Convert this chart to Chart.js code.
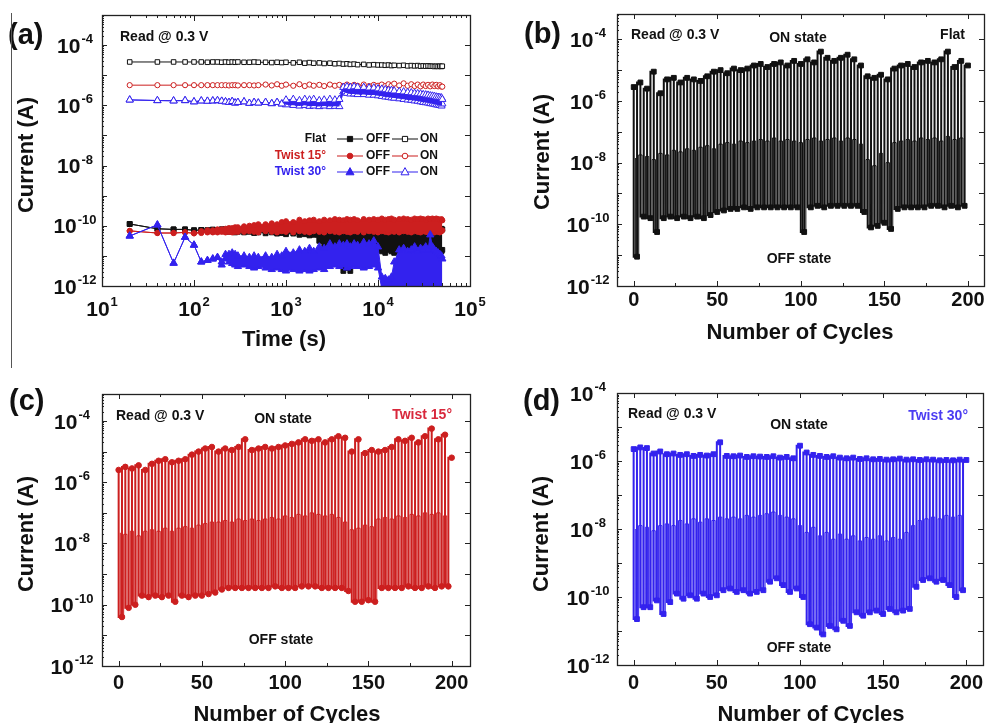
<!DOCTYPE html>
<html>
<head>
<meta charset="utf-8">
<script src="https://cdn.jsdelivr.net/npm/chart.js@4.4.1/dist/chart.umd.min.js"></script>
<style>
  html,body{margin:0;padding:0;background:#fff}
  #fig{position:relative;width:991px;height:723px;overflow:hidden;background:#fff}
  #fig canvas{position:absolute}
</style>
</head>
<body>
<div id="fig">
  <canvas id="ca" width="495" height="360" style="left:0;top:0"></canvas>
  <canvas id="cb" width="496" height="360" style="left:495px;top:0"></canvas>
  <canvas id="cc" width="495" height="363" style="left:0;top:360px"></canvas>
  <canvas id="cd" width="496" height="363" style="left:495px;top:360px"></canvas>
</div>
<script>
/* retention (a) + endurance (b-d); currents kept as log10(I / A) */

// ---- (a) retention, read @ 0.3 V. Noisy parts are given as upper / lower envelopes (HI / LO)
const TIME_S = [20,40,60,80,100,120,140,160,180,200,220,240,260,280,300,350,400,450,500,600,700,800,900,1000,
  1200,1400,1600,1800,2000,2300,2600,3000,3400,3800,4200,4600,5000,5500,6000,7000,8000,9000,10000,
  11000,12000,13000,14000,15000,17000,19000,21000,23000,25000,27000,29000,31000,33000,35000,37000,39000,
  41000,43000,45000,47000,49000,50000];

const FLAT_ON_A = [-4.56,-4.56,-4.56,-4.56,-4.56,-4.56,-4.57,-4.56,-4.56,-4.57,-4.56,-4.57,-4.56,-4.57,-4.56,-4.57,
  -4.57,-4.56,-4.57,-4.57,-4.58,-4.57,-4.58,-4.57,-4.59,-4.57,-4.60,-4.58,-4.60,-4.59,-4.61,-4.60,-4.62,-4.61,
  -4.63,-4.62,-4.64,-4.63,-4.65,-4.64,-4.66,-4.65,-4.66,-4.66,-4.67,-4.66,-4.68,-4.67,-4.68,-4.67,-4.69,-4.68,
  -4.69,-4.68,-4.70,-4.69,-4.70,-4.69,-4.70,-4.70,-4.71,-4.70,-4.71,-4.70,-4.71,-4.70];
const T15_ON_A = [-5.33,-5.33,-5.33,-5.33,-5.33,-5.33,-5.33,-5.33,-5.33,-5.33,-5.33,-5.34,-5.33,-5.33,-5.34,-5.33,
  -5.33,-5.34,-5.33,-5.31,-5.34,-5.30,-5.35,-5.31,-5.35,-5.30,-5.36,-5.31,-5.35,-5.32,-5.36,-5.31,-5.35,-5.32,
  -5.36,-5.31,-5.36,-5.32,-5.35,-5.31,-5.36,-5.32,-5.35,-5.31,-5.36,-5.30,-5.35,-5.28,-5.34,-5.27,-5.35,-5.30,
  -5.36,-5.31,-5.37,-5.31,-5.36,-5.32,-5.37,-5.31,-5.36,-5.32,-5.37,-5.33,-5.38,-5.38];
const T30_ON_HI = [-5.82,-5.84,-5.85,-5.84,-5.88,-5.85,-5.86,-5.85,-5.84,-5.86,-5.88,-5.90,-5.87,-5.92,-5.90,-5.88,
  -5.93,-5.90,-5.92,-5.90,-5.94,-5.90,-5.95,-5.82,-5.80,-5.84,-5.80,-5.82,-5.80,-5.84,-5.82,-5.80,-5.82,-5.80,
  -5.40,-5.38,-5.40,-5.38,-5.40,-5.40,-5.42,-5.42,-5.45,-5.46,-5.48,-5.50,-5.50,-5.52,-5.54,-5.55,-5.57,-5.58,
  -5.60,-5.61,-5.62,-5.64,-5.65,-5.66,-5.68,-5.69,-5.70,-5.72,-5.73,-5.74,-5.75,-5.80];
const T30_ON_LO = [-5.82,-5.84,-5.85,-5.84,-5.88,-5.85,-5.86,-5.85,-5.84,-5.86,-5.88,-5.90,-5.87,-5.92,-5.90,-5.88,
  -5.93,-5.90,-5.92,-5.90,-5.94,-5.90,-5.95,-5.98,-6.00,-6.02,-6.00,-6.03,-6.02,-6.04,-6.02,-6.04,-6.03,-6.04,
  -5.55,-5.60,-5.62,-5.62,-5.64,-5.64,-5.66,-5.66,-5.68,-5.70,-5.72,-5.73,-5.75,-5.76,-5.78,-5.80,-5.82,-5.83,
  -5.85,-5.86,-5.88,-5.90,-5.91,-5.92,-5.94,-5.95,-5.96,-5.98,-5.99,-6.00,-6.02,-5.95];
const FLAT_OFF_HI = [-9.94,-10.10,-10.12,-10.12,-10.15,-10.14,-10.15,-10.13,-10.15,-10.12,-10.12,-10.10,-10.12,-10.10,
  -10.12,-10.10,-10.12,-10.10,-10.12,-10.10,-10.12,-10.10,-10.12,-10.10,-10.12,-10.05,-10.10,-10.05,-10.10,-10.08,
  -10.10,-10.12,-10.10,-10.12,-10.10,-10.12,-10.10,-10.12,-10.10,-10.12,-10.10,-10.12,-10.10,-10.12,-10.10,-10.12,
  -10.10,-10.12,-10.10,-10.12,-10.10,-10.12,-10.10,-10.12,-10.10,-10.12,-10.10,-10.12,-10.10,-10.12,-10.10,-10.12,
  -10.10,-10.12,-10.10,-10.12];
const FLAT_OFF_LO = [-9.94,-10.10,-10.12,-10.12,-10.15,-10.14,-10.15,-10.13,-10.15,-10.12,-10.18,-10.20,-10.18,-10.22,
  -10.20,-10.22,-10.20,-10.24,-10.22,-10.25,-10.22,-10.26,-10.24,-10.28,-10.26,-10.30,-10.28,-10.32,-10.30,-10.50,
  -10.70,-10.85,-10.90,-11.20,-11.50,-11.40,-11.50,-11.20,-10.95,-10.85,-10.90,-10.85,-10.80,-10.85,-10.90,-10.80,
  -10.85,-10.90,-10.85,-10.80,-10.85,-10.90,-10.85,-10.80,-10.85,-10.80,-10.85,-10.80,-10.85,-10.90,-10.85,-10.80,
  -10.85,-10.80,-10.85,-10.80];
const T15_OFF_HI = [-10.17,-10.24,-10.24,-10.22,-10.25,-10.18,-10.15,-10.15,-10.12,-10.12,-10.10,-10.08,-10.08,-10.05,
  -10.05,-10.02,-10.00,-9.98,-9.95,-9.95,-9.92,-9.95,-9.88,-9.85,-9.88,-9.80,-9.85,-9.82,-9.80,-9.85,-9.80,-9.82,
  -9.78,-9.80,-9.82,-9.78,-9.80,-9.78,-9.82,-9.78,-9.80,-9.78,-9.80,-9.76,-9.80,-9.78,-9.76,-9.80,-9.78,-9.76,
  -9.78,-9.80,-9.76,-9.78,-9.76,-9.78,-9.80,-9.76,-9.78,-9.76,-9.78,-9.76,-9.78,-9.80,-9.78,-9.82];
const T15_OFF_LO = [-10.17,-10.24,-10.24,-10.22,-10.25,-10.24,-10.22,-10.22,-10.22,-10.20,-10.22,-10.20,-10.22,-10.20,
  -10.20,-10.20,-10.18,-10.20,-10.22,-10.18,-10.20,-10.22,-10.18,-10.20,-10.22,-10.18,-10.20,-10.22,-10.18,-10.20,
  -10.22,-10.18,-10.20,-10.22,-10.18,-10.20,-10.22,-10.18,-10.20,-10.22,-10.18,-10.20,-10.22,-10.18,-10.20,-10.22,
  -10.18,-10.20,-10.22,-10.18,-10.20,-10.22,-10.18,-10.20,-10.22,-10.18,-10.20,-10.22,-10.18,-10.20,-10.22,-10.18,
  -10.20,-10.22,-10.18,-10.15];
const T30_OFF_HI = [-10.34,-9.97,-11.24,-10.38,-10.64,-11.20,-11.15,-11.10,-11.05,-11.20,-10.95,-10.95,-10.90,-10.95,
  -11.00,-11.00,-11.05,-11.00,-11.05,-11.00,-11.05,-10.95,-11.00,-10.85,-10.90,-10.80,-10.85,-10.75,-10.85,-10.70,
  -10.75,-10.60,-10.70,-10.60,-10.65,-10.60,-10.70,-10.60,-10.65,-10.55,-10.60,-10.50,-10.70,-11.70,-11.75,-11.80,
  -11.70,-11.20,-10.80,-10.75,-10.85,-10.80,-10.70,-10.85,-10.75,-10.80,-10.70,-10.80,-10.30,-10.70,-10.80,-10.85,
  -10.90,-10.95,-11.00,-11.10];
const T30_OFF_LO = [-10.34,-9.97,-11.24,-10.38,-10.64,-11.20,-11.15,-11.10,-11.05,-11.30,-11.10,-11.20,-11.25,-11.30,
  -11.35,-11.30,-11.35,-11.40,-11.35,-11.40,-11.45,-11.40,-11.45,-11.50,-11.45,-11.50,-11.45,-11.50,-11.45,-11.40,
  -11.45,-11.35,-11.30,-11.35,-11.30,-11.40,-11.35,-11.30,-11.35,-11.40,-11.35,-11.30,-11.40,-12.10,-12.10,-12.10,
  -12.10,-12.10,-12.20,-12.20,-12.20,-12.20,-12.20,-12.20,-12.20,-12.20,-12.20,-12.20,-12.20,-12.20,-12.20,-12.20,
  -12.20,-12.20,-12.20,-12.20];

// ---- (b)-(d) endurance: one ON/OFF pair every 4 cycles, MID = top of the dense lower band
const CYCLES = [0,4,8,12,16,20,24,28,32,36,40,44,48,52,56,60,64,68,72,76,80,84,88,92,96,100,
  104,108,112,116,120,124,128,132,136,140,144,148,152,156,160,164,168,172,176,180,184,188,192,196,200];

const FLAT_ON = [-5.55,-5.40,-5.60,-5.05,-5.75,-5.30,-5.25,-5.40,-5.25,-5.30,-5.35,-5.20,-5.05,-5.00,-5.10,-4.95,
  -5.00,-4.95,-4.85,-4.80,-4.90,-4.80,-4.75,-4.85,-4.70,-4.80,-4.65,-4.75,-4.40,-4.60,-4.70,-4.60,-4.50,-4.65,
  -4.85,-5.20,-5.25,-5.15,-5.30,-4.95,-4.85,-4.80,-4.90,-4.75,-4.70,-4.75,-4.65,-4.40,-4.90,-4.70,-4.85];
const FLAT_OFF = [-11.05,-9.75,-9.80,-10.25,-9.80,-9.75,-9.80,-9.75,-9.80,-9.75,-9.80,-9.70,-9.60,-9.55,-9.50,-9.50,
  -9.45,-9.50,-9.45,-9.45,-9.45,-9.45,-9.45,-9.45,-9.45,-10.25,-9.45,-9.40,-9.45,-9.40,-9.40,-9.40,-9.40,-9.40,
  -9.60,-10.10,-10.05,-9.95,-10.15,-9.50,-9.45,-9.45,-9.45,-9.45,-9.40,-9.40,-9.45,-9.40,-9.45,-9.40];
const FLAT_MID = [-7.85,-7.75,-7.80,-7.90,-7.70,-7.75,-7.60,-7.65,-7.55,-7.60,-7.50,-7.45,-7.55,-7.40,-7.35,-7.40,
  -7.30,-7.35,-7.30,-7.25,-7.30,-7.20,-7.30,-7.25,-7.30,-7.35,-7.25,-7.20,-7.30,-7.25,-7.20,-7.30,-7.20,-7.25,
  -7.40,-7.90,-8.10,-7.70,-8.00,-7.35,-7.30,-7.25,-7.30,-7.20,-7.25,-7.20,-7.30,-7.15,-7.25,-7.20];

const T15_ON = [-5.60,-5.50,-5.55,-5.45,-5.60,-5.40,-5.30,-5.25,-5.35,-5.30,-5.25,-5.10,-5.00,-4.90,-4.85,-5.00,
  -4.90,-4.95,-4.85,-4.60,-4.95,-4.90,-4.85,-4.90,-4.85,-4.80,-4.75,-4.70,-4.60,-4.65,-4.60,-4.70,-4.60,-4.50,
  -4.55,-5.00,-4.60,-5.05,-4.95,-5.00,-4.95,-4.85,-4.60,-4.65,-4.55,-4.70,-4.50,-4.25,-4.60,-4.45,-5.20];
const T15_OFF = [-10.40,-10.10,-10.00,-9.70,-9.75,-9.70,-9.75,-9.70,-9.90,-9.70,-9.75,-9.70,-9.70,-9.65,-9.60,-9.50,
  -9.45,-9.45,-9.45,-9.45,-9.45,-9.45,-9.45,-9.40,-9.45,-9.45,-9.45,-9.40,-9.40,-9.40,-9.45,-9.45,-9.45,-9.45,
  -9.55,-9.90,-9.90,-9.85,-9.90,-9.45,-9.45,-9.45,-9.45,-9.40,-9.45,-9.45,-9.40,-9.45,-9.40,-9.40];
const T15_MID = [-7.65,-7.70,-7.60,-7.75,-7.60,-7.55,-7.60,-7.50,-7.60,-7.50,-7.45,-7.50,-7.40,-7.35,-7.30,-7.30,
  -7.25,-7.30,-7.20,-7.25,-7.20,-7.25,-7.20,-7.15,-7.20,-7.10,-7.15,-7.05,-7.10,-7.00,-7.05,-7.10,-7.05,-7.15,
  -7.30,-7.55,-7.50,-7.40,-7.45,-7.20,-7.15,-7.20,-7.10,-7.15,-7.05,-7.10,-7.00,-7.05,-7.00,-7.10];

const T30_ON = [-5.65,-5.60,-5.62,-5.78,-5.72,-5.80,-5.78,-5.82,-5.80,-5.85,-5.82,-5.84,-5.80,-5.45,-5.85,-5.86,
  -5.84,-5.88,-5.86,-5.87,-5.88,-5.86,-5.90,-5.88,-5.92,-5.55,-5.75,-5.82,-5.85,-5.88,-5.86,-5.90,-5.92,-5.90,
  -5.94,-5.92,-5.95,-5.94,-5.96,-5.95,-5.93,-5.96,-5.95,-5.97,-5.95,-5.96,-5.98,-5.97,-5.98,-5.96,-5.97];
const T30_OFF = [-10.65,-10.30,-10.30,-10.10,-10.50,-10.15,-9.90,-10.05,-9.95,-10.05,-9.90,-10.00,-9.95,-9.80,-9.75,
  -9.85,-9.80,-9.90,-9.85,-9.80,-9.55,-9.45,-9.65,-9.85,-9.75,-10.00,-10.80,-10.90,-11.10,-10.85,-10.95,-10.70,
  -10.85,-10.45,-10.55,-10.45,-10.40,-10.50,-10.35,-10.45,-10.40,-10.35,-9.70,-9.50,-9.45,-9.55,-9.50,-9.65,
  -10.00,-9.80];
const T30_MID = [-8.00,-7.90,-7.95,-8.05,-7.90,-7.85,-7.90,-7.75,-7.85,-7.70,-7.80,-7.70,-7.75,-7.65,-7.70,-7.65,
  -7.70,-7.60,-7.65,-7.60,-7.55,-7.50,-7.60,-7.65,-7.70,-7.90,-8.10,-7.95,-8.20,-8.10,-8.30,-8.15,-8.30,-8.20,
  -8.35,-8.25,-8.30,-8.20,-8.35,-8.25,-8.30,-8.10,-7.90,-7.75,-7.70,-7.65,-7.70,-7.60,-7.65,-7.60];

const FONT = '"Liberation Sans", Arial, Helvetica, sans-serif';
const BLK = '#111111', RED = '#cc1f1f', BLUE = '#3322ee';

Chart.defaults.font.family = FONT;

// ---------- helpers
const toPts = (xs, exps) => xs.map((x, i) => ({ x, y: 10 ** exps[i] }));

// ON -> OFF -> ON ... read sequence (drawn as a stepped line: vertical switch, then hold)
function zigzag(on, off) {
  const pts = [];
  on.forEach((v, k) => {
    pts.push({ x: CYCLES[k], y: 10 ** v });
    if (k < off.length) pts.push({ x: CYCLES[k] + 2, y: 10 ** off[k] });
  });
  return pts;
}
function midzag(mid, off) {
  const pts = [];
  mid.forEach((v, k) => {
    pts.push({ x: CYCLES[k] + 1, y: 10 ** v });
    pts.push({ x: CYCLES[k] + 3, y: 10 ** off[k] });
  });
  return pts;
}

function txt(ctx, s, x, y, size, color, align, base) {
  ctx.font = `bold ${size}px ${FONT}`;
  ctx.fillStyle = color || BLK;
  ctx.textAlign = align || 'left';
  ctx.textBaseline = base || 'middle';
  ctx.fillText(s, x, y);
}

// "10" with raised exponent, centred on cx; cy = middle of the "10"
function powLabel(ctx, exp, cx, cy, size) {
  const sub = Math.round(size * 0.64);
  ctx.font = `bold ${size}px ${FONT}`;
  const wb = ctx.measureText('10').width;
  ctx.font = `bold ${sub}px ${FONT}`;
  const ws = ctx.measureText(String(exp)).width;
  const x0 = cx - (wb + ws + 1) / 2, yb = cy + size * 0.36;
  ctx.fillStyle = BLK; ctx.textAlign = 'left'; ctx.textBaseline = 'alphabetic';
  ctx.font = `bold ${size}px ${FONT}`;
  ctx.fillText('10', x0, yb);
  ctx.font = `bold ${sub}px ${FONT}`;
  ctx.fillText(String(exp), x0 + wb + 1, yb - size * 0.45);
}

function marker(ctx, shape, x, y, r, color, open) {
  ctx.beginPath();
  if (shape === 'rect') ctx.rect(x - r, y - r, 2 * r, 2 * r);
  else if (shape === 'circle') ctx.arc(x, y, r, 0, Math.PI * 2);
  else { ctx.moveTo(x, y - r * 1.1); ctx.lineTo(x + r, y + r * 0.7); ctx.lineTo(x - r, y + r * 0.7); ctx.closePath(); }
  ctx.fillStyle = open ? '#fff' : color;
  ctx.fill();
  ctx.lineWidth = 1; ctx.strokeStyle = color; ctx.stroke();
}

// frame, inward ticks, tick labels, titles and notes
function deco(p) {
  return {
    id: 'deco',
    afterDatasetsDraw(chart) {
      const { ctx, chartArea: a, scales: { x, y } } = chart;
      ctx.save();
      ctx.strokeStyle = '#222';
      ctx.lineWidth = 1;
      ctx.beginPath();
      const eLo = Math.ceil(Math.log10(y.min) - 1e-9), eHi = Math.floor(Math.log10(y.max) + 1e-9);
      for (let e = eLo - 1; e <= eHi; e++) {
        const py = Math.round(y.getPixelForValue(10 ** e)) + 0.5;
        if (e >= eLo) {
          ctx.moveTo(a.left, py); ctx.lineTo(a.left + 5, py);
          ctx.moveTo(a.right, py); ctx.lineTo(a.right - 5, py);
        }
        for (let k = 2; k < 10; k++) {
          const v = k * 10 ** e;
          if (v < y.min || v > y.max) continue;
          const pm = Math.round(y.getPixelForValue(v)) + 0.5;
          ctx.moveTo(a.left, pm); ctx.lineTo(a.left + 2, pm);
        }
      }
      if (p.xLog) {
        for (let e = 1; e <= 5; e++) {
          const px = Math.round(x.getPixelForValue(10 ** e)) + 0.5;
          ctx.moveTo(px, a.bottom); ctx.lineTo(px, a.bottom - 6);
          ctx.moveTo(px, a.top); ctx.lineTo(px, a.top + 6);
          if (e === 5) break;
          for (let k = 2; k < 10; k++) {
            const pm = Math.round(x.getPixelForValue(k * 10 ** e)) + 0.5;
            ctx.moveTo(pm, a.bottom); ctx.lineTo(pm, a.bottom - 3);
            ctx.moveTo(pm, a.top); ctx.lineTo(pm, a.top + 3);
          }
        }
      } else {
        for (let v = 0; v <= 200; v += 25) {
          const px = Math.round(x.getPixelForValue(v)) + 0.5, len = v % 50 ? 3 : 5;
          ctx.moveTo(px, a.bottom); ctx.lineTo(px, a.bottom - len);
          ctx.moveTo(px, a.top); ctx.lineTo(px, a.top + len);
        }
      }
      ctx.stroke();
      ctx.lineWidth = 1.3;
      ctx.strokeRect(Math.round(a.left) + 0.5, Math.round(a.top) + 0.5,
        Math.round(a.right - a.left), Math.round(a.bottom - a.top));

      // tick labels
      for (let e = -12; e <= -4; e += 2) powLabel(ctx, e, p.yLabX, y.getPixelForValue(10 ** e), 21);
      if (p.xLog) {
        for (let e = 1; e <= 5; e++) powLabel(ctx, e, x.getPixelForValue(10 ** e), p.xLabY, 21);
      } else {
        for (let v = 0; v <= 200; v += 50) txt(ctx, String(v), x.getPixelForValue(v), p.xLabY, 20, BLK, 'center');
      }

      // axis titles + panel letter
      txt(ctx, p.xTitle, p.xTitleX, p.xTitleY, 22, BLK, 'center', 'alphabetic');
      ctx.save();
      ctx.translate(p.yTitleX, p.yTitleY);
      ctx.rotate(-Math.PI / 2);
      txt(ctx, 'Current (A)', 0, 0, 22, BLK, 'center');
      ctx.restore();
      txt(ctx, p.letter, p.letterX, p.letterY, 29, BLK, 'left');

      p.notes.forEach(([s, nx, ny, col, al]) => txt(ctx, s, nx, ny, 14, col, al));
      if (p.legend) p.legend(ctx);
      if (p.edge) p.edge(ctx);
      ctx.restore();
    },
  };
}

const baseOpts = (pad, xScale, yMax) => ({
  responsive: false, animation: false, devicePixelRatio: 1,
  layout: { padding: pad },
  plugins: { legend: { display: false }, tooltip: { enabled: false } },
  elements: { line: { tension: 0 } },
  scales: {
    x: Object.assign({ display: false }, xScale),
    y: { type: 'logarithmic', min: 1e-12, max: yMax, display: false },
  },
});

// ---------- (a)
const LEGEND_A = [['Flat', BLK, 'rect', 2.6], ['Twist 15°', RED, 'circle', 2.8], ['Twist 30°', BLUE, 'tri', 4]];
function legendA(ctx) {
  [139, 156, 172].forEach((ly, i) => {
    const [name, col, shape, r] = LEGEND_A[i];
    txt(ctx, name, 326, ly, 12, col, 'right');
    ctx.strokeStyle = col; ctx.lineWidth = 1.2;
    ctx.beginPath(); ctx.moveTo(337, ly); ctx.lineTo(363, ly); ctx.moveTo(392, ly); ctx.lineTo(418, ly); ctx.stroke();
    marker(ctx, shape, 350, ly, r, col, false);
    marker(ctx, shape, 405, ly, r, col, true);
    txt(ctx, 'OFF', 366, ly, 12, BLK, 'left');
    txt(ctx, 'ON', 420, ly, 12, BLK, 'left');
  });
}

// band = true -> filled down to the next dataset (the LO envelope)
const aSet = (exps, color, shape, r, open, order, band) => ({
  data: toPts(TIME_S, exps), borderColor: color, backgroundColor: color, borderWidth: 1, order, clip: 0,
  fill: band ? '+1' : false,
  pointStyle: shape, pointRadius: r, pointBorderWidth: 1, pointBorderColor: color,
  pointBackgroundColor: open ? '#fff' : color,
});

new Chart(document.getElementById('ca'), {
  type: 'line',
  data: { datasets: [
    aSet(T30_OFF_HI, BLUE, 'triangle', 4.2, false, 1, true),
    aSet(T30_OFF_LO, BLUE, 'triangle', 4.2, false, 1),
    aSet(T30_ON_HI, BLUE, 'triangle', 4.2, true, 1, true),
    aSet(T30_ON_LO, BLUE, 'triangle', 4.2, true, 1),
    aSet(T15_OFF_HI, RED, 'circle', 2.6, false, 2, true),
    aSet(T15_OFF_LO, RED, 'circle', 2.6, false, 2),
    aSet(T15_ON_A, RED, 'circle', 2.6, true, 2),
    aSet(FLAT_OFF_HI, BLK, 'rect', 3.4, false, 3, true),
    aSet(FLAT_OFF_LO, BLK, 'rect', 3.4, false, 3),
    aSet(FLAT_ON_A, BLK, 'rect', 3.2, true, 3),
  ]},
  options: baseOpts({ left: 102, top: 15, right: 25, bottom: 74 }, { type: 'logarithmic', min: 10, max: 1e5 }, 1e-3),
  plugins: [deco({
    xLog: true, yLabX: 75, xLabY: 308, xTitle: 'Time (s)', xTitleX: 284, xTitleY: 346,
    yTitleX: 27, yTitleY: 155, letter: '(a)', letterX: 8, letterY: 36,
    notes: [['Read @ 0.3 V', 120, 37, BLK, 'left']],
    legend: legendA,
    edge: ctx => { ctx.strokeStyle = '#555'; ctx.lineWidth = 1; ctx.beginPath(); ctx.moveTo(11.5, 13); ctx.lineTo(11.5, 360); ctx.stroke(); },
  })],
});

// ---------- (b)-(d)
function cycleChart(id, color, shape, r, on, off, mid, pad, xScale, yMax, p) {
  return new Chart(document.getElementById(id), {
    type: 'line',
    data: { datasets: [
      { data: zigzag(on, off), borderColor: color, borderWidth: 2, order: 1, stepped: 'after',
        pointStyle: shape, pointRadius: r, pointBorderWidth: 1, pointBorderColor: color, pointBackgroundColor: color },
      { data: midzag(mid, off), borderColor: color, borderWidth: 1, pointRadius: 0, order: 2, stepped: 'after' },
    ]},
    options: baseOpts(pad, xScale, yMax),
    plugins: [deco(p)],
  });
}

cycleChart('cb', BLK, 'rect', 3.4, FLAT_ON, FLAT_OFF, FLAT_MID,
  { left: 122, top: 14, right: 7, bottom: 74 }, { type: 'linear', min: -10, max: 209.6 }, 10 ** -3.18, {
    yLabX: 93, xLabY: 300, xTitle: 'Number of Cycles', xTitleX: 305, xTitleY: 339,
    yTitleX: 48, yTitleY: 152, letter: '(b)', letterX: 29, letterY: 35,
    notes: [['Read @ 0.3 V', 136, 35, BLK, 'left'], ['ON state', 303, 38, BLK, 'center'],
            ['Flat', 470, 35, BLK, 'right'], ['OFF state', 304, 259, BLK, 'center']],
  });

cycleChart('cc', RED, 'circle', 2.8, T15_ON, T15_OFF, T15_MID,
  { left: 102, top: 34, right: 25, bottom: 57 }, { type: 'linear', min: -10, max: 211 }, 10 ** -3.12, {
    yLabX: 72, xLabY: 323, xTitle: 'Number of Cycles', xTitleX: 287, xTitleY: 361,
    yTitleX: 27, yTitleY: 174, letter: '(c)', letterX: 9, letterY: 42,
    notes: [['Read @ 0.3 V', 116, 56, BLK, 'left'], ['ON state', 283, 59, BLK, 'center'],
            ['Twist 15°', 452, 55, '#d8283c', 'right'], ['OFF state', 281, 280, BLK, 'center']],
    edge: ctx => { ctx.strokeStyle = '#555'; ctx.lineWidth = 1; ctx.beginPath(); ctx.moveTo(11.5, 0); ctx.lineTo(11.5, 8); ctx.stroke(); },
  });

cycleChart('cd', BLUE, 'rect', 3.4, T30_ON, T30_OFF, T30_MID,
  { left: 122, top: 33, right: 8, bottom: 58 }, { type: 'linear', min: -10, max: 210 }, 1e-4, {
    yLabX: 93, xLabY: 323, xTitle: 'Number of Cycles', xTitleX: 316, xTitleY: 361,
    yTitleX: 47, yTitleY: 174, letter: '(d)', letterX: 28, letterY: 42,
    notes: [['Read @ 0.3 V', 133, 54, BLK, 'left'], ['ON state', 304, 65, BLK, 'center'],
            ['Twist 30°', 473, 56, '#4b3cf2', 'right'], ['OFF state', 304, 288, BLK, 'center']],
  });
</script>
</body>
</html>
